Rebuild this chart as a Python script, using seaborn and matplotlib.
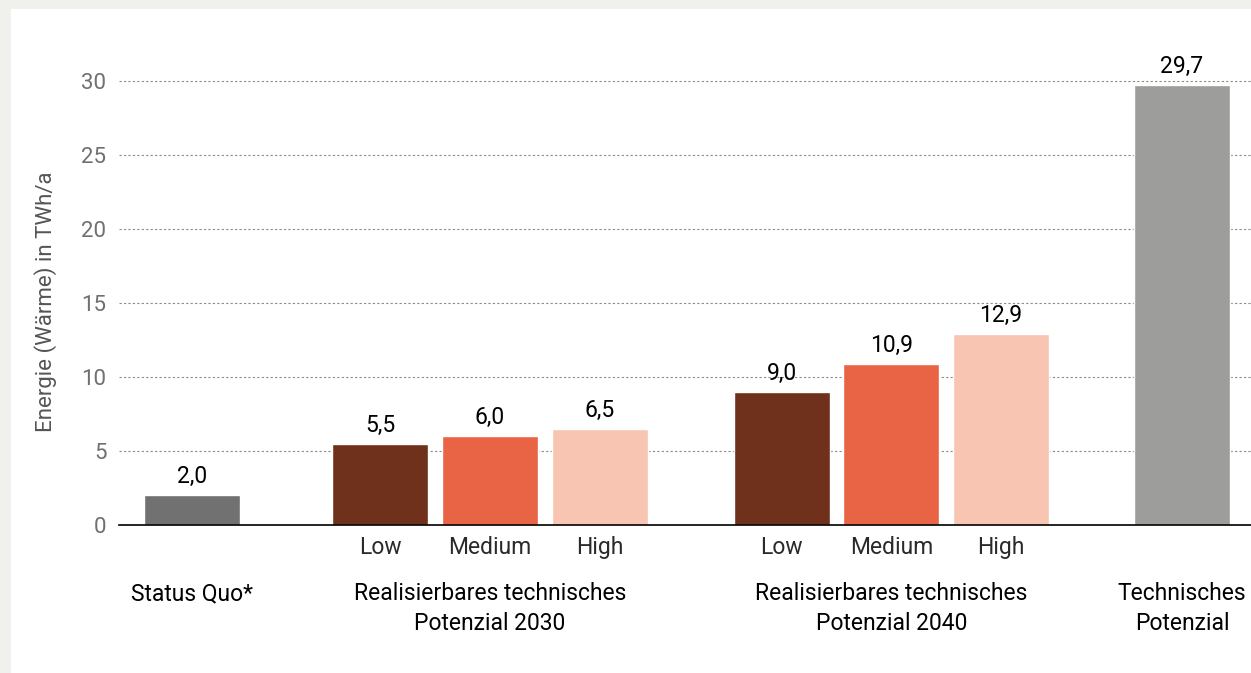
import pandas as pd
import matplotlib.pyplot as plt
import matplotlib.patches as mpatches
import seaborn as sns

# Data
keys = ["sq", "l30", "m30", "h30", "l40", "m40", "h40", "tp"]
values = [2.0, 5.5, 6.0, 6.5, 9.0, 10.9, 12.9, 29.7]
sub_labels = ["", "Low", "Medium", "High", "Low", "Medium", "High", ""]
group_names = ["Status Quo*", "Realisierbares technisches\nPotenzial 2030",
               "Realisierbares technisches\nPotenzial 2040", "Technisches\nPotenzial"]
group_sizes = [1, 3, 3, 1]
colors = ["#717171", "#6f301c", "#e86445", "#f7c5b1",
          "#6f301c", "#e86445", "#f7c5b1", "#9d9d9b"]
y_label = "Energie (Wärme) in TWh/a"

# x positions: step 1 inside a group, wider gaps between groups
group_gaps = [1.715, 1.66, 1.65]
positions, group_centers = [], []
x = 0.0
for gi, n in enumerate(group_sizes):
    if gi > 0:
        x += group_gaps[gi - 1] - 1
    start = x
    for _ in range(n):
        positions.append(x)
        x += 1
    group_centers.append((start + x - 1) / 2)

df = pd.DataFrame({"pos": positions, "value": values, "key": keys})

sns.set_style("white")
plt.rcParams["font.family"] = ["Roboto", "DejaVu Sans"]

W, H = 1251, 673
fig = plt.figure(figsize=(W / 100, H / 100), dpi=100)
fig.patch.set_facecolor("#f0f1ed")
fig.patches.append(mpatches.Rectangle((11 / W, 0), 1 - 11 / W, (H - 9) / H,
                                      transform=fig.transFigure, color="white", zorder=-10))

ax_left, ax_bottom, ax_top = 119, 525, 51
ax = fig.add_axes([ax_left / W, (H - ax_bottom) / H, 1 - ax_left / W, (ax_bottom - ax_top) / H])
ax.set_facecolor("none")

sns.barplot(data=df, x="pos", y="value", hue="key", palette=colors, native_scale=True,
            dodge=False, width=0.875, saturation=1, legend=False, ax=ax, zorder=3)

ax.set_xlim(-0.6655, 9.654)
ax.set_ylim(0, 32)
ax.set_yticks(range(0, 31, 5))
ax.yaxis.grid(True, color="#8a8a8a", linestyle=(0, (2, 2)), linewidth=0.8)
ax.set_axisbelow(True)
for s in ["top", "right", "left"]:
    ax.spines[s].set_visible(False)
ax.spines["bottom"].set_color("black")
ax.spines["bottom"].set_linewidth(1.2)
ax.spines["bottom"].set_zorder(4)

ax.set_xticks(positions)
ax.set_xticklabels(sub_labels)
ax.tick_params(axis="x", length=0, pad=8, labelsize=16.5, labelcolor="#2a2a2a")
ax.tick_params(axis="y", length=0, pad=9, labelsize=16, labelcolor="#707070")
ax.set_xlabel("")
ax.set_ylabel(y_label, fontsize=16, color="#555555")
ax.yaxis.set_label_coords(-0.0548, 0.47)

for c in ax.containers:
    ax.bar_label(c, labels=[f"{b.get_height():.1f}".replace(".", ",") for b in c],
                 padding=5, fontsize=16.5, color="black")

for cx, name in zip(group_centers, group_names):
    ax.text(cx, -0.121, name, transform=ax.get_xaxis_transform(), ha="center", va="top",
            fontsize=16.5, color="black", linespacing=1.35)

fig.savefig("out.png", dpi=100, facecolor=fig.get_facecolor())
